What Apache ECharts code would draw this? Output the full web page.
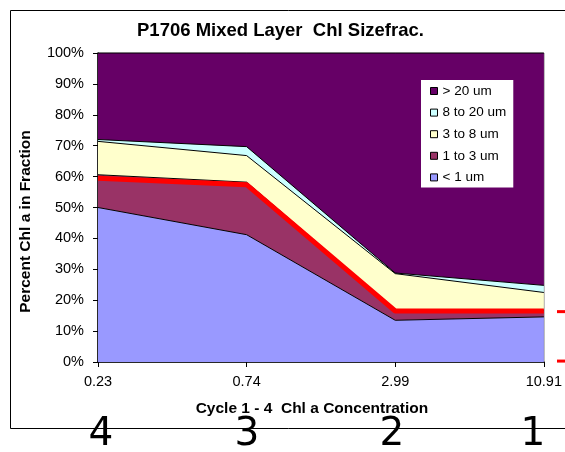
<!DOCTYPE html>
<html>
<head>
<meta charset="utf-8">
<script src="https://cdn.jsdelivr.net/npm/echarts@6/dist/echarts.min.js"></script>
<style>
  html, body { margin: 0; padding: 0; background: #fff; }
  #chart { width: 565px; height: 452px; }
</style>
</head>
<body>
<div id="chart"></div>
<script>
// Chl a concentration for each cycle (category axis)
const categories = ['0.23', '0.74', '2.99', '10.91'];
const cycleLabels = ['4', '3', '2', '1'];

// Percent of total Chl a in each size fraction
const lt1um = [50.0, 41.2, 13.5, 14.6];
const um1to3 = [10.6, 17.0, 3.5, 2.2];
const um3to8 = [10.8, 8.6, 11.6, 5.7];
const um8to20 = [0.6, 2.9, 0.2, 2.3];
const gt20um = [28.0, 30.3, 71.2, 75.2];

// Hand-drawn red marker line above the 1-3 um band
const redMarker = [59.5, 57.4, 16.5, 16.5];
// Red ticks to the right of the plot (percent levels)
const redTicks = [16.3, 0.3];

const FONT = '"Liberation Sans", Arial, sans-serif';

function areaSeries(name, data, color) {
  return {
    name: name,
    type: 'line',
    stack: 'total',
    data: data,
    symbol: 'none',
    lineStyle: { color: '#000', width: 1 },
    areaStyle: { color: color, opacity: 1 },
    itemStyle: { color: color, borderColor: '#000', borderWidth: 1 },
    emphasis: { disabled: true },
    silent: true,
    animation: false
  };
}

const chart = echarts.init(document.getElementById('chart'), null, { renderer: 'canvas' });

const option = {
  backgroundColor: '#fff',
  animation: false,
  title: {
    text: 'P1706 Mixed Layer  Chl Sizefrac.',
    left: 137,
    top: 21,
    padding: 0,
    textStyle: { fontFamily: FONT, fontSize: 18.5, fontWeight: 'bold', color: '#000' }
  },
  grid: {
    left: 98, right: 19, top: 53, bottom: 90,
    show: true, borderColor: '#444', borderWidth: 1
  },
  legend: {
    orient: 'vertical',
    left: 421,
    top: 80,
    padding: [3, 7, 2, 9],
    backgroundColor: '#fff',
    itemWidth: 7,
    itemHeight: 7,
    itemGap: 5.6,
    itemTextGap: 4,
    icon: 'rect',
    selectedMode: false,
    data: ['> 20 um', '8 to 20 um', '3 to 8 um', '1 to 3 um', '< 1 um'],
    itemStyle: { borderColor: '#000', borderWidth: 1 },
    textStyle: { fontFamily: FONT, fontSize: 13.5, color: '#000', lineHeight: 16 }
  },
  xAxis: {
    type: 'category',
    data: categories,
    boundaryGap: false,
    name: 'Cycle 1 - 4  Chl a Concentration',
    nameLocation: 'middle',
    nameGap: 39,
    nameTextStyle: {
      fontFamily: FONT, fontSize: 15.5, fontWeight: 'bold', color: '#000',
      padding: [0, 18, 0, 0]
    },
    axisLine: { lineStyle: { color: '#000', width: 1.5 } },
    axisTick: { show: true, length: 5, lineStyle: { color: '#000' }, alignWithLabel: true },
    axisLabel: { fontFamily: FONT, fontSize: 14.5, color: '#000', margin: 12 },
    splitLine: { show: false }
  },
  yAxis: {
    type: 'value',
    min: 0,
    max: 100,
    interval: 10,
    name: 'Percent Chl a in Fraction',
    nameLocation: 'middle',
    nameGap: 64,
    nameTextStyle: {
      fontFamily: FONT, fontSize: 15.5, fontWeight: 'bold', color: '#000',
      padding: [0, 28, 0, 0]
    },
    axisLine: { show: true, lineStyle: { color: '#000', width: 1.5 } },
    axisTick: { show: true, length: 5, lineStyle: { color: '#000' } },
    axisLabel: { fontFamily: FONT, fontSize: 14.5, color: '#000', margin: 14, formatter: '{value}%' },
    splitLine: { show: false }
  },
  series: [
    areaSeries('< 1 um', lt1um, '#9999FF'),
    areaSeries('1 to 3 um', um1to3, '#993366'),
    areaSeries('3 to 8 um', um3to8, '#FFFFCC'),
    areaSeries('8 to 20 um', um8to20, '#CCFFFF'),
    areaSeries('> 20 um', gt20um, '#660066'),
    {
      name: 'marker',
      type: 'line',
      data: redMarker,
      symbol: 'none',
      z: 5,
      silent: true,
      lineStyle: { color: '#FF0000', width: 5 },
      itemStyle: { color: '#FF0000' }
    }
  ]
};

chart.setOption(option);

// Frame, cycle numbers and red ticks placed after the axes exist
const graphics = [
  {
    type: 'rect',
    shape: { x: 10.5, y: 10.5, width: 600, height: 418 },
    style: { fill: null, stroke: '#000', lineWidth: 1 },
    silent: true, z: 0
  }
];
const cycleX = [101, 247, 392, 533];
cycleLabels.forEach(function (t, i) {
  graphics.push({
    type: 'text',
    x: cycleX[i],
    y: 435,
    style: {
      text: t,
      fontFamily: '"DejaVu Sans", sans-serif',
      fontSize: 39,
      fill: '#000',
      align: 'center',
      verticalAlign: 'middle'
    },
    silent: true, z: 10
  });
});
redTicks.forEach(function (v) {
  const y = chart.convertToPixel({ yAxisIndex: 0 }, v);
  graphics.push({
    type: 'line',
    shape: { x1: 557, y1: y, x2: 570, y2: y },
    style: { stroke: '#FF0000', lineWidth: 3 },
    silent: true, z: 10
  });
});
chart.setOption({ graphic: graphics });
</script>
</body>
</html>
